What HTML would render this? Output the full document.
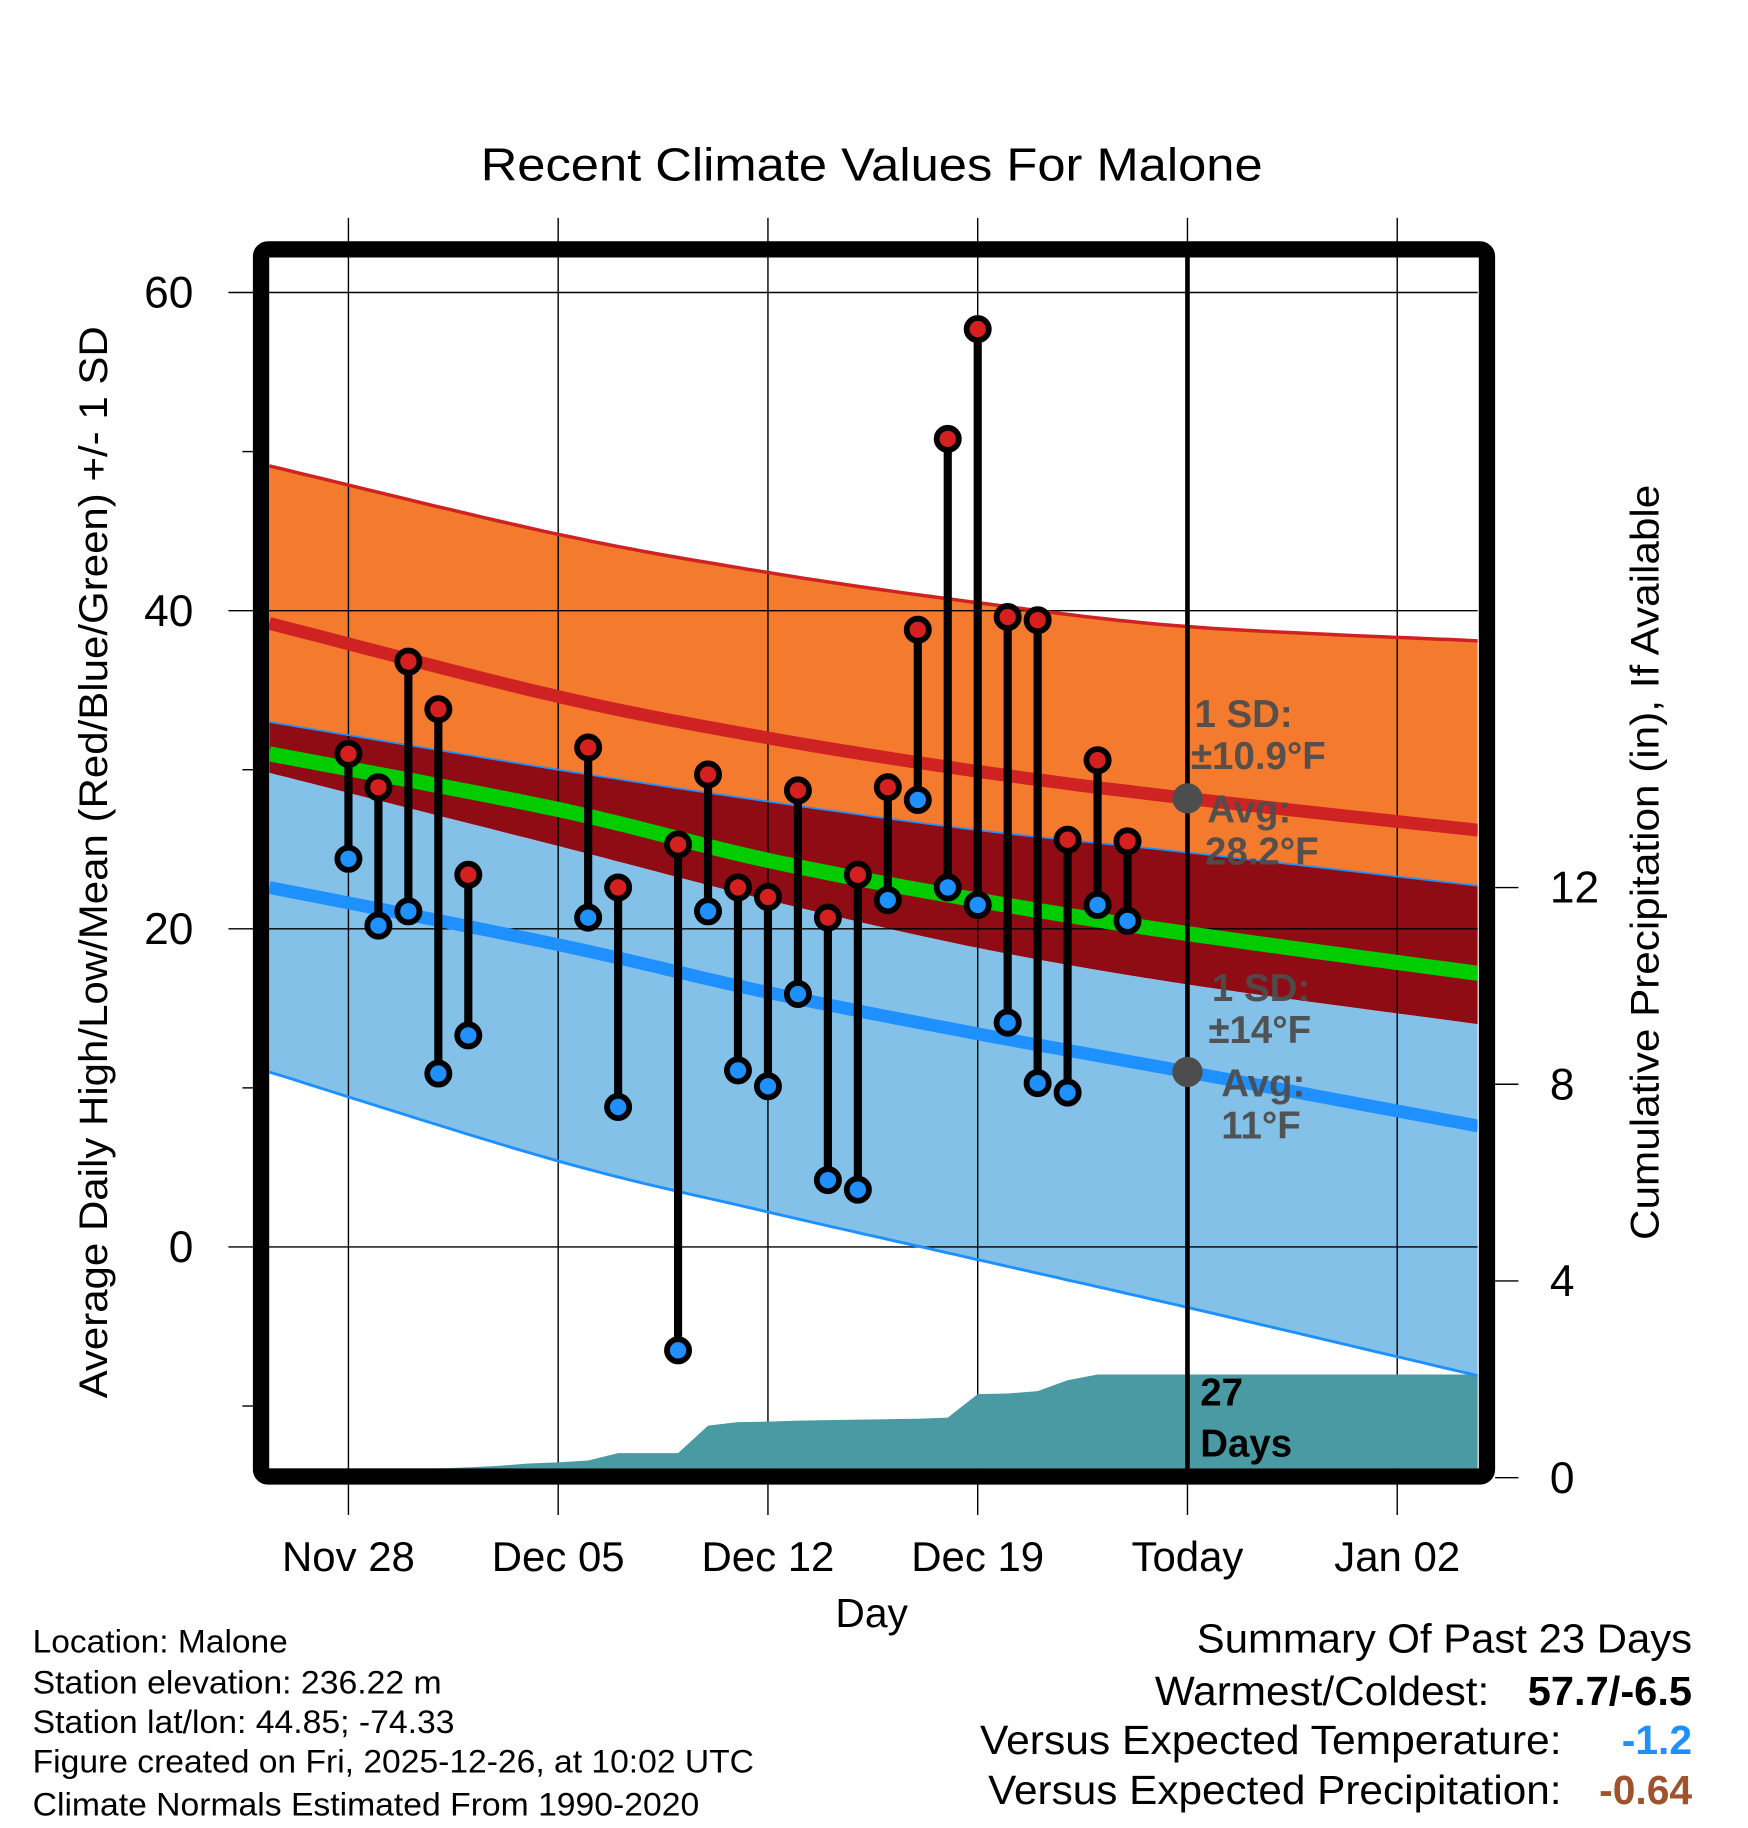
<!DOCTYPE html>
<html><head><meta charset="utf-8"><style>
html,body{margin:0;padding:0;background:#fff;}
svg{display:block;font-family:"Liberation Sans",sans-serif;}
</style></head><body>
<svg id="chart" width="1748" height="1828" viewBox="0 0 1500 1568.6" preserveAspectRatio="none" xmlns="http://www.w3.org/2000/svg">
<defs><clipPath id="plotclip"><rect x="231" y="221" width="1037" height="1039"/></clipPath></defs>
<text x="748" y="155" font-size="40" text-anchor="middle" textLength="671" lengthAdjust="spacingAndGlyphs">Recent Climate Values For Malone</text>
<g id="bands" clip-path="url(#plotclip)"></g>
<g id="grid"></g>
<g id="precip" clip-path="url(#plotclip)"></g>
<g id="lines" clip-path="url(#plotclip)"></g>
<g id="marks"></g>
<g id="annot"></g>
<rect x="224" y="214" width="1052" height="1053" rx="6" fill="none" stroke="#000" stroke-width="14"/>
<g id="axes"></g>
<text transform="translate(92,740) rotate(-90)" font-size="34" text-anchor="middle" textLength="920" lengthAdjust="spacingAndGlyphs">Average Daily High/Low/Mean (Red/Blue/Green) +/- 1 SD</text>
<text transform="translate(1423,740) rotate(-90)" font-size="34" text-anchor="middle" textLength="648" lengthAdjust="spacingAndGlyphs">Cumulative Precipitation (in), If Available</text>
<text x="748" y="1396" font-size="35" text-anchor="middle">Day</text>
<g font-size="28">
<text x="28" y="1418" textLength="219" lengthAdjust="spacingAndGlyphs">Location: Malone</text>
<text x="28" y="1453" textLength="351" lengthAdjust="spacingAndGlyphs">Station elevation: 236.22 m</text>
<text x="28" y="1487" textLength="362" lengthAdjust="spacingAndGlyphs">Station lat/lon: 44.85; -74.33</text>
<text x="28" y="1521" textLength="619" lengthAdjust="spacingAndGlyphs">Figure created on Fri, 2025-12-26, at 10:02 UTC</text>
<text x="28" y="1558" textLength="572" lengthAdjust="spacingAndGlyphs">Climate Normals Estimated From 1990-2020</text>
</g>
<g font-size="35">
<text x="1027" y="1418" textLength="425" lengthAdjust="spacingAndGlyphs">Summary Of Past 23 Days</text>
<text x="991" y="1463" textLength="287" lengthAdjust="spacingAndGlyphs">Warmest/Coldest:</text>
<text x="1311" y="1463" font-weight="bold" textLength="141" lengthAdjust="spacingAndGlyphs">57.7/-6.5</text>
<text x="841" y="1505" textLength="499" lengthAdjust="spacingAndGlyphs">Versus Expected Temperature:</text>
<text x="1452" y="1505" text-anchor="end" font-weight="bold" fill="#1e90ff">-1.2</text>
<text x="848" y="1548" textLength="492" lengthAdjust="spacingAndGlyphs">Versus Expected Precipitation:</text>
<text x="1452" y="1548" text-anchor="end" font-weight="bold" fill="#a0522d">-0.64</text>
</g>
</svg>
<script>
// ---- data ----
const normDays = [-2.64, 7, 14, 21, 28, 37.7];
const maxHi   = [49.1, 44.8, 42.4, 40.5, 39.0, 38.1];
const maxMean = [39.2, 34.6, 32.0, 29.9, 28.2, 26.2];
const maxLo   = [33.0, 30.0, 28.0, 26.2, 24.8, 22.7];
const avgMean = [31.0, 27.5, 24.3, 21.8, 19.7, 17.2];
const minHi   = [29.8, 25.2, 21.8, 18.8, 16.5, 14.0];
const minMean = [22.6, 19.0, 16.0, 13.4, 11.0, 7.6];
const minLo   = [11.0, 5.4, 2.2, -0.8, -3.8, -8.1];
const obsDays = [0,1,2,3,4,8,9,11,12,13,14,15,16,17,18,19,20,21,22,23,24,25,26];
const highs = [31.0,28.9,36.8,33.8,23.4,31.4,22.6,25.3,29.7,22.6,22.0,28.7,20.7,23.4,28.9,38.8,50.8,57.7,39.6,39.4,25.6,30.6,25.5];
const lows  = [24.4,20.2,21.1,10.9,13.3,20.7,8.8,-6.5,21.1,11.1,10.1,15.9,4.2,3.6,21.8,28.1,22.6,21.5,14.1,10.3,9.7,21.5,20.5];
const precipDays = [-2.64,3,4,5,6,7,8,9,10,11,12,13,14,15,16,17,18,19,20,21,22,23,24,25,26,37.7];
const precipVals = [0.19,0.19,0.21,0.24,0.29,0.31,0.35,0.5,0.5,0.5,1.06,1.13,1.14,1.16,1.17,1.18,1.19,1.2,1.22,1.7,1.71,1.76,1.98,2.1,2.1,2.1];
const xTickDays = [0,7,14,21,28,35];
const xTickLabels = ["Nov 28","Dec 05","Dec 12","Dec 19","Today","Jan 02"];
const yTicks = [60,40,20,0];
const yMinor = [50,30,10,-10];
const y2Ticks = [12,8,4,0];
const todayDay = 28;
// ---- scales ----
const X = d => 299 + d*25.714;
const Y = v => 1070 - v*13.65;
const Y2 = p => 1268 - p*42.2;
const NS='http://www.w3.org/2000/svg';
function mk(tag, attrs, parent){const e=document.createElementNS(NS,tag);for(const k in attrs)e.setAttribute(k,attrs[k]);document.getElementById(parent).appendChild(e);return e;}
function smooth(ds, vs){
  const out=[];
  const n=ds.length;
  for(let i=0;i<n-1;i++){
    const p0=[ds[Math.max(i-1,0)],vs[Math.max(i-1,0)]], p1=[ds[i],vs[i]], p2=[ds[i+1],vs[i+1]], p3=[ds[Math.min(i+2,n-1)],vs[Math.min(i+2,n-1)]];
    for(let k=0;k<20;k++){
      const t=k/20, t2=t*t, t3=t2*t;
      const f=(a,b,c,d)=>0.5*((2*b)+(-a+c)*t+(2*a-5*b+4*c-d)*t2+(-a+3*b-3*c+d)*t3);
      out.push([f(p0[0],p1[0],p2[0],p3[0]), f(p0[1],p1[1],p2[1],p3[1])]);
    }
  }
  out.push([ds[n-1],vs[n-1]]);
  return out.map(p=>X(p[0]).toFixed(1)+','+Y(p[1]).toFixed(1));
}
const pts = (ds,vs,f)=>ds.map((d,i)=>X(d).toFixed(1)+','+f(vs[i]).toFixed(1));
function band(a,b,color,name){
  const p = smooth(normDays,a).concat(smooth(normDays,b).reverse());
  const e=mk('polygon',{points:p.join(' '),fill:color},'bands');
  
  
}
band(maxHi,maxLo,'#f47a2e','max-sd-band');
band(maxLo,minHi,'#8f0c14','overlap-band');
band(minHi,minLo,'#83c1e8','min-sd-band');
xTickDays.forEach((d,i)=>{
  const l=mk('line',{x1:X(d),x2:X(d),y1:187,y2:1300,stroke:'#000','stroke-width':1.2},'grid');
  
  
  const t=mk('text',{x:X(d),y:1348,'font-size':36,'text-anchor':'middle'},'axes');
  t.textContent=xTickLabels[i];
  
  
});
yTicks.forEach(v=>{
  const l=mk('line',{x1:196,x2:1268,y1:Y(v),y2:Y(v),stroke:'#000','stroke-width':1.2},'grid');
  
  
  const t=mk('text',{x:166,y:Y(v)+13,'font-size':38,'text-anchor':'end'},'axes');
  t.textContent=v;
  
  
});
yMinor.forEach(v=>{
  const l=mk('line',{x1:208,x2:217,y1:Y(v),y2:Y(v),stroke:'#000','stroke-width':1.2},'axes');
  
  
});
y2Ticks.forEach(p=>{
  const l=mk('line',{x1:1283,x2:1303,y1:Y2(p),y2:Y2(p),stroke:'#000','stroke-width':1.2},'axes');
  
  
  const t=mk('text',{x:1330,y:Y2(p)+13,'font-size':38,'text-anchor':'start'},'axes');
  t.textContent=p;
  
  
});
{
  const p = pts(precipDays,precipVals,Y2);
  p.push(X(37.7)+','+1270, X(-2.64)+','+1270);
  const e=mk('polygon',{points:p.join(' '),fill:'#4a9aa3'},'precip');
  
  
}
function line(vals,color,w,name){
  const e=mk('polyline',{points:smooth(normDays,vals).join(' '),fill:'none',stroke:color,'stroke-width':w},'lines');
  
  
}
line(maxHi,'#cf2222',3,'max-plus-sd-line');
line(maxMean,'#cf2222',11,'mean-high-line');
line(maxLo,'#1e90ff',1.5,'max-minus-sd-line');
line(avgMean,'#00cc00',13,'mean-line');
line(minMean,'#1e90ff',11,'mean-low-line');
line(minLo,'#1e90ff',2.5,'min-minus-sd-line');
{
  const e=mk('line',{x1:X(todayDay),x2:X(todayDay),y1:221,y2:1262,stroke:'#000','stroke-width':4},'lines');
  
  
}
obsDays.forEach((d,i)=>{
  const s=mk('line',{x1:X(d),x2:X(d),y1:Y(highs[i]),y2:Y(lows[i]),stroke:'#000','stroke-width':7},'marks');
  
  
});
obsDays.forEach((d,i)=>{
  const h=mk('circle',{cx:X(d),cy:Y(highs[i]),r:9.5,fill:'#d62020',stroke:'#000','stroke-width':5},'marks');
  
  
  const l=mk('circle',{cx:X(d),cy:Y(lows[i]),r:9.5,fill:'#1e90ff',stroke:'#000','stroke-width':5},'marks');
  
  
});
[28.2,11].forEach(v=>{
  const c=mk('circle',{cx:X(todayDay),cy:Y(v),r:13,fill:'#4d4d4d'},'annot');
  
  
});
const ann=[["1 SD:",1025,624],["±10.9°F",1022,660],["Avg:",1036,706],["28.2°F",1034,742],
           ["1 SD:",1040,859],["±14°F",1037,895],["Avg:",1048,941],["11°F",1048,977]];
ann.forEach(a=>{
  const t=mk('text',{x:a[1],y:a[2],'font-size':33,'font-weight':'bold',fill:'#4d4d4d','fill-opacity':0.95},'annot');
  t.textContent=a[0];
  
  
});
[["27",1206],["Days",1250]].forEach(a=>{
  const t=mk('text',{x:1030,y:a[1],'font-size':33,'font-weight':'bold',fill:'#000'},'annot');
  t.textContent=a[0];
  
  
});
</script>
</body></html>
